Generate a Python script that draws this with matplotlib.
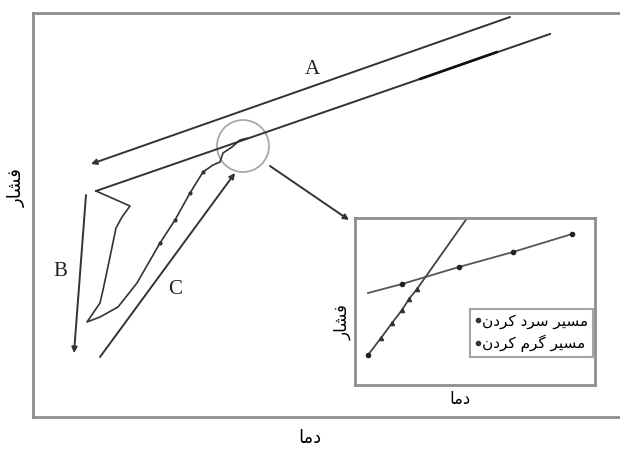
import matplotlib
matplotlib.use("Agg")
from matplotlib import pyplot as plt
from matplotlib.patches import Circle
from matplotlib.lines import Line2D

# Persian labels (logical order), shaped below because matplotlib has no RTL shaping
pressure_label = "فشار"
temp_label = "دما"
cool_label = "مسیر سرد کردن"
heat_label = "مسیر گرم کردن"

# main schematic, temperature / pressure in arbitrary units
a_T = [477, 58]            # cooling arrow A (start -> head)
a_P = [400, 253]
cool_T = [517, 63]         # cooling path
cool_P = [383, 226]
dark_T = [387, 464]        # darker stretch of the cooling path
dark_P = [338, 365]
zig_T = [63, 97, 89, 83, 77, 70, 67, 54, 67, 85, 104, 127, 142, 157, 170, 180, 187, 190, 199, 207, 215]
zig_P = [226, 211, 200, 189, 160, 127, 114, 95, 100, 110, 134, 174, 197, 224, 245, 252, 255, 264, 270, 277, 279]
b_T = [53, 41]             # arrow B
b_P = [222, 64]
c_T = [67, 202]            # arrow C
c_P = [60, 244]
zoom_T, zoom_P, zoom_r = 210, 271, 26
ptr_T = [237, 316]
ptr_P = [251, 197]

# inset data
in_cool_T = [13, 47, 104, 158, 217]
in_cool_P = [92, 101, 118, 133, 151]
in_heat_T = [13, 26, 37, 47, 54, 62, 115]
in_heat_P = [30, 47, 62, 75, 86, 96, 171]

FORMS = {
    'ا': ('\uFE8D', '\uFE8E', None, None),
    'د': ('\uFEA9', '\uFEAA', None, None),
    'ر': ('\uFEAD', '\uFEAE', None, None),
    'س': ('\uFEB1', '\uFEB2', '\uFEB3', '\uFEB4'),
    'ش': ('\uFEB5', '\uFEB6', '\uFEB7', '\uFEB8'),
    'ف': ('\uFED1', '\uFED2', '\uFED3', '\uFED4'),
    'م': ('\uFEE1', '\uFEE2', '\uFEE3', '\uFEE4'),
    'ن': ('\uFEE5', '\uFEE6', '\uFEE7', '\uFEE8'),
    'ی': ('\uFBFC', '\uFBFD', '\uFBFE', '\uFBFF'),
    'ک': ('\uFB8E', '\uFB8F', '\uFB90', '\uFB91'),
    'گ': ('\uFB92', '\uFB93', '\uFB94', '\uFB95'),
}


def fa(s):
    out = []
    for i, ch in enumerate(s):
        if ch not in FORMS:
            out.append(ch)
            continue
        prev = s[i - 1] if i > 0 else None
        nxt = s[i + 1] if i + 1 < len(s) else None
        jp = prev in FORMS and FORMS[prev][2] is not None
        jn = nxt in FORMS and FORMS[ch][2] is not None
        iso, fin, ini, med = FORMS[ch]
        if jp and jn:
            out.append(med)
        elif jp:
            out.append(fin)
        elif jn:
            out.append(ini)
        else:
            out.append(iso)
    return ''.join(reversed(out))


ink = '#333333'
frame = '#8e8e8e'
fa_font = ['DejaVu Sans']
lat_font = ['Liberation Serif', 'DejaVu Serif']

fig = plt.figure(figsize=(6.2, 4.55), dpi=100)
W, H = 620, 455

# main axes, right edge runs past the figure like in the reference
ax = fig.add_axes([33 / W, (H - 417) / H, 607 / W, 404 / H])
ax.set_xlim(0, 607)
ax.set_ylim(0, 404)
ax.set_xticks([])
ax.set_yticks([])
for s in ax.spines.values():
    s.set_color(frame)
    s.set_linewidth(2)

arrow = dict(arrowstyle='-|>', color=ink, lw=1.4, mutation_scale=8, shrinkA=0, shrinkB=0)
ax.annotate('', xy=(a_T[1], a_P[1]), xytext=(a_T[0], a_P[0]), arrowprops=arrow)
ax.plot(cool_T, cool_P, color=ink, lw=1.4)
ax.plot(dark_T, dark_P, color='#111111', lw=1.9, solid_capstyle='round')
ax.plot(zig_T, zig_P, color=ink, lw=1.2)
ax.plot(zig_T[11:15], zig_P[11:15], 'o', color=ink, ms=2)
ax.annotate('', xy=(b_T[1], b_P[1]), xytext=(b_T[0], b_P[0]), arrowprops=arrow)
ax.annotate('', xy=(c_T[1], c_P[1]), xytext=(c_T[0], c_P[0]), arrowprops=arrow)
ax.add_patch(Circle((zoom_T, zoom_P), zoom_r, fill=False, ec='#a8a8a8', lw=1.3))
ax.annotate('', xy=(ptr_T[1], ptr_P[1]), xytext=(ptr_T[0], ptr_P[0]), arrowprops=arrow)

ax.text(279, 347, 'A', family=lat_font, fontsize=15, ha='center', va='center', color='#222222')
ax.text(27, 145, 'B', family=lat_font, fontsize=15, ha='center', va='center', color='#222222')
ax.text(142, 127, 'C', family=lat_font, fontsize=15, ha='center', va='center', color='#222222')

ax.set_xlabel(fa(temp_label), family=fa_font, fontsize=13)
ax.xaxis.set_label_coords(0.456, -0.03)
ax.set_ylabel(fa(pressure_label), family=fa_font, fontsize=13)
ax.yaxis.set_label_coords(-0.012, 0.567)

# inset
ins = fig.add_axes([355 / W, (H - 385) / H, 240 / W, 167 / H])
ins.set_xlim(0, 240)
ins.set_ylim(0, 167)
ins.set_xticks([])
ins.set_yticks([])
for s in ins.spines.values():
    s.set_color(frame)
    s.set_linewidth(2)

ins.plot(in_cool_T, in_cool_P, color='#555555', lw=1.3)
ins.plot(in_cool_T[1:], in_cool_P[1:], 'o', color='#222222', ms=3)
ins.plot(in_heat_T, in_heat_P, color='#444444', lw=1.3)
ins.plot(in_heat_T[:1], in_heat_P[:1], 'o', color='#222222', ms=3)
ins.plot(in_heat_T[1:-1], in_heat_P[1:-1], '^', color='#333333', ms=3)

handles = [Line2D([], [], marker='o', ls='none', color='#333333', ms=3),
           Line2D([], [], marker='o', ls='none', color='#333333', ms=3)]
leg = ins.legend(handles, [fa(cool_label), fa(heat_label)], loc='upper left',
                 bbox_to_anchor=(0.479, 0.455), frameon=True, fancybox=False,
                 prop={'family': fa_font, 'size': 11}, handlelength=0.4,
                 handletextpad=0.1, borderpad=0.3, labelspacing=0.4, borderaxespad=0)
leg.get_frame().set_edgecolor(frame)
leg.get_frame().set_linewidth(1.5)

ins.set_xlabel(fa(temp_label), family=fa_font, fontsize=12)
ins.xaxis.set_label_coords(0.4375, -0.03)
ins.set_ylabel(fa(pressure_label), family=fa_font, fontsize=12)
ins.yaxis.set_label_coords(-0.012, 0.377)

fig.savefig('out.png', dpi=100)
